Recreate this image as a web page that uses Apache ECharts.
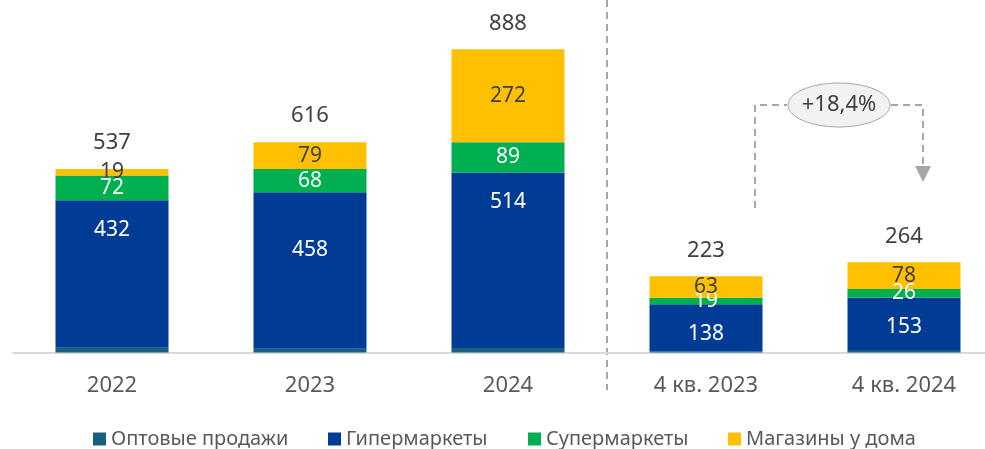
<!DOCTYPE html>
<html>
<head>
<meta charset="utf-8">
<script src="https://cdn.jsdelivr.net/npm/echarts@6/dist/echarts.min.js"></script>
<style>
html, body { margin: 0; padding: 0; background: #fff; }
#chart { width: 985px; height: 449px; }
</style>
</head>
<body>
<div id="chart"></div>
<script>
'use strict';

var categories = ['2022', '2023', '2024', '4 кв. 2023', '4 кв. 2024'];
var wholesale = [14, 11, 13, 3, 7];
var hypermarkets = [432, 458, 514, 138, 153];
var supermarkets = [72, 68, 89, 19, 26];
var convenience = [19, 79, 272, 63, 78];
var totals = [537, 616, 888, 223, 264];
var seriesNames = ['Оптовые продажи', 'Гипермаркеты', 'Супермаркеты', 'Магазины у дома'];
var growthText = '+18,4%';

var FONT = 'Noto Sans';
var GRAY = '#595959';
var DARK = '#404040';

var myChart = echarts.init(document.getElementById('chart'));

function legendAt(name, left) {
    return {
        data: [name],
        left: left,
        top: 424,
        icon: 'rect',
        itemWidth: 13,
        itemHeight: 13,
        selectedMode: false,
        textStyle: { fontFamily: FONT, fontSize: 20, color: GRAY }
    };
}

function barSeries(name, data, color, label) {
    return {
        name: name,
        type: 'bar',
        stack: 'all',
        data: data,
        barWidth: 113,
        itemStyle: { color: color },
        label: label
    };
}

function labelStyle(color, position, distance) {
    return {
        show: true,
        position: position,
        distance: distance,
        color: color,
        fontFamily: FONT,
        fontSize: 21
    };
}

// hypermarket labels sit near the top of their segment, the 2023 one a bit lower
var hyperData = hypermarkets.map(function(v, i) {
    return i === 1 ? { value: v, label: { distance: 47 } } : v;
});

var option = {
    animation: false,
    grid: { left: 13, top: 11, width: 990, height: 341.5, outerBoundsMode: 'none', containLabel: false },
    legend: [
        legendAt(seriesNames[0], 88),
        legendAt(seriesNames[1], 323),
        legendAt(seriesNames[2], 523),
        legendAt(seriesNames[3], 723)
    ],
    xAxis: {
        type: 'category',
        data: categories,
        axisTick: { show: false },
        axisLine: { lineStyle: { color: '#d9d9d9', width: 2 } },
        axisLabel: { margin: 22, fontFamily: FONT, fontSize: 22, color: GRAY }
    },
    yAxis: {
        type: 'value',
        min: 0,
        max: 1000,
        show: false
    },
    series: [
        barSeries(seriesNames[0], wholesale, '#17607f', { show: false }),
        barSeries(seriesNames[1], hyperData, '#003b95', labelStyle('#fff', 'insideTop', 19)),
        barSeries(seriesNames[2], supermarkets, '#00b050', labelStyle('#fff', 'inside')),
        barSeries(seriesNames[3], convenience, '#ffc000', labelStyle(DARK, 'inside')),
        {
            name: 'total',
            type: 'bar',
            stack: 'all',
            data: totals.map(function() { return 0; }),
            barWidth: 113,
            label: {
                show: true,
                position: 'top',
                distance: 15,
                fontFamily: FONT,
                fontSize: 22,
                color: DARK,
                formatter: function(p) { return totals[p.dataIndex]; }
            }
        }
    ]
};

myChart.setOption(option);

// separator and growth annotation, placed relative to the category positions
var x2 = myChart.convertToPixel({ xAxisIndex: 0 }, categories[2]);
var x3 = myChart.convertToPixel({ xAxisIndex: 0 }, categories[3]);
var x4 = myChart.convertToPixel({ xAxisIndex: 0 }, categories[4]);
var sepX = (x2 + x3) / 2;
var leftX = x3 + 49;
var rightX = x4 + 19;
var midX = (leftX + rightX) / 2;
var topY = 105;
var dash = { stroke: '#a6a6a6', lineWidth: 2, lineDash: [7, 5] };

myChart.setOption({
    graphic: [
        { type: 'line', shape: { x1: sepX, y1: 0, x2: sepX, y2: 390 }, style: dash, silent: true },
        { type: 'polyline', shape: { points: [[leftX, 208], [leftX, topY], [midX - 52, topY]] }, style: dash, silent: true },
        { type: 'polyline', shape: { points: [[midX + 52, topY], [rightX, topY], [rightX, 168]] }, style: dash, silent: true },
        { type: 'polygon', shape: { points: [[rightX - 8, 166], [rightX + 8, 166], [rightX, 182]] }, style: { fill: '#a6a6a6' }, silent: true },
        { type: 'ellipse', shape: { cx: midX, cy: topY, rx: 51, ry: 22 }, style: { fill: '#f2f2f2', stroke: '#a6a6a6', lineWidth: 1 }, silent: true },
        { type: 'text', x: midX, y: topY, style: { text: growthText, fontFamily: FONT, fontSize: 22, fill: DARK, align: 'center', verticalAlign: 'middle' }, silent: true }
    ]
});
</script>
</body>
</html>
